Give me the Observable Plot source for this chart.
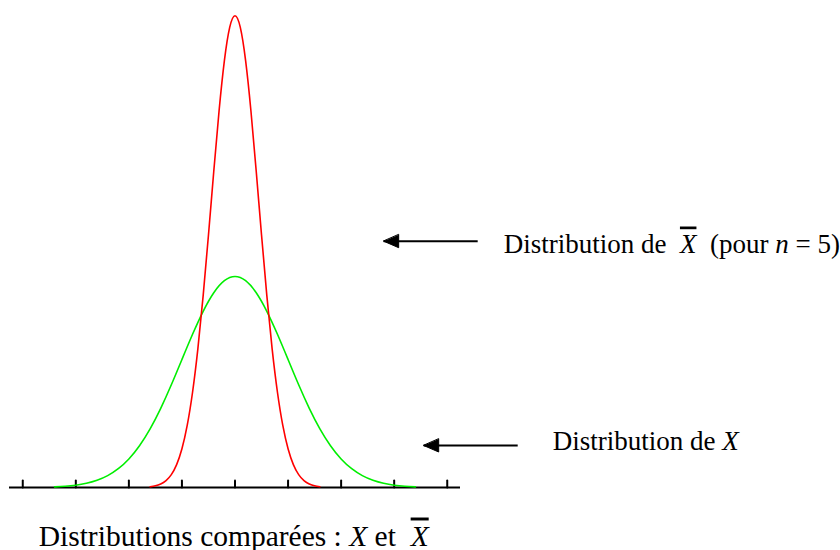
<!DOCTYPE html>
<html>
<head>
<meta charset="utf-8">
<script src="https://cdn.jsdelivr.net/npm/d3@7"></script>
<script src="https://cdn.jsdelivr.net/npm/@observablehq/plot@0.6"></script>
<style>
  body { margin: 0; background: #fff; }
  svg { display: block; }
</style>
</head>
<body>
<div id="chart"></div>
<script>
// Axis tick positions (in units of sigma)
const axisTicks = [-4, -3, -2, -1, 0, 1, 2, 3, 4];

// Distribution de X (green)
const greenX = [-3.4, -3.2, -3.0, -2.8, -2.6, -2.4, -2.2, -2.0, -1.8, -1.6, -1.4, -1.2, -1.0, -0.8, -0.6, -0.4, -0.2, 0,
                0.2, 0.4, 0.6, 0.8, 1.0, 1.2, 1.4, 1.6, 1.8, 2.0, 2.2, 2.4, 2.6, 2.8, 3.0, 3.2, 3.4];
const greenY = [0.0012, 0.0024, 0.0044, 0.0079, 0.0136, 0.0224, 0.0355, 0.0540, 0.0790, 0.1109, 0.1497, 0.1942, 0.2420, 0.2897, 0.3332, 0.3683, 0.3910, 0.3989,
                0.3910, 0.3683, 0.3332, 0.2897, 0.2420, 0.1942, 0.1497, 0.1109, 0.0790, 0.0540, 0.0355, 0.0224, 0.0136, 0.0079, 0.0044, 0.0024, 0.0012];

// Distribution de X-bar, n = 5 (red)
const redX = [-1.6, -1.5, -1.4, -1.3, -1.2, -1.1, -1.0, -0.9, -0.8, -0.7, -0.6, -0.5, -0.4, -0.3, -0.2, -0.1, 0,
              0.1, 0.2, 0.3, 0.4, 0.5, 0.6, 0.7, 0.8, 0.9, 1.0, 1.1, 1.2, 1.3, 1.4, 1.5, 1.6];
const redY = [0.0015, 0.0032, 0.0066, 0.0130, 0.0244, 0.0433, 0.0732, 0.1178, 0.1801, 0.2621, 0.3627, 0.4775, 0.5980, 0.7123, 0.8072, 0.8701, 0.8921,
              0.8701, 0.8072, 0.7123, 0.5980, 0.4775, 0.3627, 0.2621, 0.1801, 0.1178, 0.0732, 0.0433, 0.0244, 0.0130, 0.0066, 0.0032, 0.0015];

// Annotation texts (*..* = italic, ^..^ = italic with overline)
const labelTexts = ["Distribution de\u00a0 ^X^\u00a0 (pour *n* = 5)", "Distribution de *X*", "Distributions comparées : *X* et\u00a0 ^X^"];
const labelX = [5.064, 5.988, -3.70];
const labelY = [0.4443, 0.0700, -0.1097];
const labelSize = [27, 27, 29.5];

// Arrows pointing toward the curves
const arrowTail = [4.574, 5.328];
const arrowTip = [2.802, 3.556];
const arrowY = [0.4657, 0.0794];

const green = greenX.map((x, i) => ({x, y: greenY[i]}));
const red = redX.map((x, i) => ({x, y: redY[i]}));
const labels = labelTexts.map((text, i) => ({text, x: labelX[i], y: labelY[i], size: labelSize[i]}));
const arrows = arrowTail.map((x1, i) => ({x1, x2: arrowTip[i], y: arrowY[i]}));

const tickShape = {draw(ctx, l) { ctx.moveTo(0, 0); ctx.lineTo(0, -l); }};
const headShape = {draw(ctx, l) { ctx.moveTo(0, -l); ctx.lineTo(-6.5, 0); ctx.lineTo(6.5, 0); ctx.closePath(); }};

const chart = Plot.plot({
  width: 840,
  height: 550,
  marginLeft: 9,
  marginRight: 380,
  marginTop: 11,
  marginBottom: 63,
  x: {domain: [-4.25, 4.25], axis: null},
  y: {domain: [0, 0.9], axis: null},
  style: {background: "white", overflow: "visible"},
  marks: [
    Plot.ruleY([0], {stroke: "black", strokeWidth: 2}),
    Plot.vector(axisTicks, {x: d => d, y: 0, length: 7, rotate: 0, anchor: "start", shape: tickShape, stroke: "black", strokeWidth: 2}),
    Plot.line(green, {x: "x", y: "y", stroke: "#00ee00", strokeWidth: 1.6, curve: "natural"}),
    Plot.line(red, {x: "x", y: "y", stroke: "#ff0000", strokeWidth: 1.6, curve: "natural"}),
    Plot.link(arrows, {x1: "x1", x2: "x2", y1: "y", y2: "y", stroke: "black", strokeWidth: 2}),
    Plot.vector(arrows, {x: "x2", y: "y", length: 15, rotate: -90, anchor: "end", shape: headShape, fill: "black", stroke: "black", strokeWidth: 1}),
    Plot.text(labels, {x: "x", y: "y", text: "text", fontSize: "size", textAnchor: "start", lineAnchor: "bottom",
      fontFamily: "'Liberation Serif', 'Times New Roman', serif", fill: "black"})
  ]
});

// Rich text: italic and overlined parts
d3.select(chart).selectAll("text").each(function () {
  const s = this.textContent;
  if (!/[*^]/.test(s)) return;
  const sel = d3.select(this);
  sel.text(null);
  for (const part of s.split(/(\*[^*]+\*|\^[^^]+\^)/)) {
    if (!part) continue;
    const t = sel.append("tspan");
    if (part[0] === "*") t.text(part.slice(1, -1)).attr("font-style", "italic");
    else if (part[0] === "^") t.text(part.slice(1, -1)).attr("font-style", "italic").style("text-decoration", "overline");
    else t.text(part);
  }
});

document.getElementById("chart").appendChild(chart);
</script>
</body>
</html>
